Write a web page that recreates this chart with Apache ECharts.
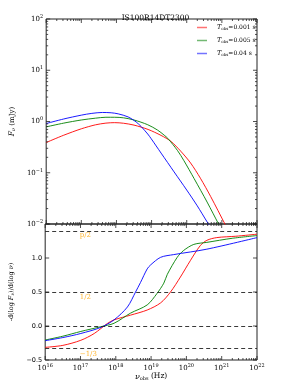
<!DOCTYPE html>
<html><head><meta charset="utf-8">
<script src="https://cdn.jsdelivr.net/npm/echarts@6/dist/echarts.min.js"></script>
<style>html,body{margin:0;padding:0;background:#fff}#c{width:294px;height:392px}</style>
</head><body><div id="c"></div>
<script>
// ---- data (log10 of frequency in Hz) ----
const seriesNames = ['0.001 s', '0.005 s', '0.04 s'];
const seriesColors = ['#ff0000', '#008000', '#0000ff'];

// Top panel: F_nu (mJy)
const redFluxLogNu   = [16, 16.5, 17.0, 17.4, 17.7, 17.95, 18.2, 18.5, 18.9, 19.27, 19.55, 19.83, 20.11, 20.39, 20.68, 21.1, 21.33];
const redFlux        = [0.389, 0.54, 0.72, 0.86, 0.93, 0.95, 0.925, 0.85, 0.70, 0.535, 0.41, 0.263, 0.155, 0.078, 0.0345, 0.0096, 0.0048];
const greenFluxLogNu = [16, 16.5, 17.0, 17.4, 17.7, 17.95, 18.2, 18.5, 18.89, 19.17, 19.36, 19.46, 19.74, 19.92, 20.21, 20.58, 20.91, 21.1];
const greenFlux      = [0.785, 0.93, 1.07, 1.16, 1.21, 1.21, 1.18, 1.07, 0.865, 0.68, 0.54, 0.47, 0.27, 0.172, 0.077, 0.0268, 0.0099, 0.0058];
const blueFluxLogNu  = [16, 16.5, 17.0, 17.3, 17.6, 17.85, 18.05, 18.33, 18.56, 18.7, 18.89, 18.99, 19.27, 19.64, 20.0, 20.3, 20.58, 20.8];
const blueFlux       = [0.912, 1.12, 1.33, 1.44, 1.50, 1.48, 1.41, 1.23, 0.98, 0.80, 0.57, 0.46, 0.242, 0.104, 0.046, 0.0226, 0.0110, 0.0064];

// Bottom panel: spectral slope -dlogF/dlognu
const redSlopeLogNu   = [16, 16.5, 17.01, 17.39, 17.77, 17.95, 18.42, 18.89, 19.27, 19.55, 19.83, 20.11, 20.39, 20.58, 20.86, 21.4, 22];
const redSlope        = [-0.314, -0.285, -0.21, -0.11, 0.04, 0.09, 0.16, 0.235, 0.34, 0.50, 0.72, 0.96, 1.18, 1.26, 1.30, 1.32, 1.35];
const greenSlopeLogNu = [16, 16.5, 17.01, 17.58, 17.95, 18.42, 18.89, 19.17, 19.36, 19.46, 19.74, 19.92, 20.21, 20.58, 21.3, 22];
const greenSlope      = [-0.206, -0.15, -0.08, -0.01, 0.04, 0.19, 0.31, 0.48, 0.63, 0.76, 1.01, 1.11, 1.20, 1.23, 1.29, 1.33];
const blueSlopeLogNu  = [16, 16.5, 17.01, 17.58, 17.95, 18.33, 18.56, 18.7, 18.89, 18.99, 19.27, 19.64, 20.58, 22];
const blueSlope       = [-0.216, -0.17, -0.11, -0.02, 0.09, 0.28, 0.50, 0.64, 0.84, 0.90, 1.01, 1.05, 1.13, 1.30];

// reference slope lines and their labels
const refLineValues = [1.4, 0.5, 0, -1/3];
const refLabels = ['p/2', '1/2', '\u22121/3'];
const refLabelY = [1.33, 0.43, -0.41];
const refLabelLogNu = 16.98;

// axes
const xMinExp = 16, xMaxExp = 22;
const topYMinExp = -2, topYMaxExp = 2;
const bottomYTicks = [-0.5, 0.0, 0.5, 1.0, 1.5];

const title = 'IS100R14DT2300';

// ---- build ----
const pw = e => Math.pow(10, e);
const pairs = (xs, ys) => xs.map((x, i) => [pw(x), ys[i]]);
const topData = [pairs(redFluxLogNu, redFlux), pairs(greenFluxLogNu, greenFlux), pairs(blueFluxLogNu, blueFlux)];
const botData = [pairs(redSlopeLogNu, redSlope), pairs(greenSlopeLogNu, greenSlope), pairs(blueSlopeLogNu, blueSlope)];

const serif = '"DejaVu Serif", "Liberation Serif", serif';
const sans = '"DejaVu Sans", sans-serif';
const supRich = {
  b: {fontSize: 7, fontFamily: serif, color: '#000'},
  s: {fontSize: 5, fontFamily: serif, color: '#000', padding: [0, 0, 5, 0]}
};
const supFmt = v => {
  const e = Math.round(Math.log10(v));
  return '{b|10}{s|' + (e < 0 ? '\u2212' + (-e) : e) + '}';
};

function logTicks(minE, maxE) {
  const major = [], minor = [];
  for (let e = minE; e <= maxE; e++) {
    major.push(pw(e));
    if (e < maxE) for (let m = 2; m <= 9; m++) minor.push(m * pw(e));
  }
  return {major, minor};
}
const xt = logTicks(xMinExp, xMaxExp);
const yt = logTicks(topYMinExp, topYMaxExp);
const MAJ = 4, MIN = 2;

function tickSeries(gridIdx, xTicks, yTicks, yMin, xMin) {
  const data = [];
  xTicks.major.forEach(v => data.push([v, yMin, 0, MAJ]));
  xTicks.minor.forEach(v => data.push([v, yMin, 0, MIN]));
  yTicks.major.forEach(v => data.push([xMin, v, 1, MAJ]));
  yTicks.minor.forEach(v => data.push([xMin, v, 1, MIN]));
  return {
    type: 'custom', xAxisIndex: gridIdx, yAxisIndex: gridIdx, silent: true, z: 5,
    data: data,
    renderItem: (params, api) => {
      const cs = params.coordSys;
      const p = api.coord([api.value(0), api.value(1)]);
      const L = api.value(3);
      const st = {stroke: '#222', lineWidth: 0.8};
      if (api.value(2) === 0) {
        return {type: 'group', children: [
          {type: 'line', shape: {x1: p[0], y1: cs.y + cs.height, x2: p[0], y2: cs.y + cs.height - L}, style: st},
          {type: 'line', shape: {x1: p[0], y1: cs.y, x2: p[0], y2: cs.y + L}, style: st}
        ]};
      }
      return {type: 'group', children: [
        {type: 'line', shape: {x1: cs.x, y1: p[1], x2: cs.x + L, y2: p[1]}, style: st},
        {type: 'line', shape: {x1: cs.x + cs.width, y1: p[1], x2: cs.x + cs.width - L, y2: p[1]}, style: st}
      ]};
    }
  };
}

const grids = [
  {left: 44, right: 37, top: 19, height: 205, show: true, borderColor: '#222', borderWidth: 1},
  {left: 44, right: 37, top: 224, height: 136, show: true, borderColor: '#222', borderWidth: 1}
];

const xAxisBase = {
  type: 'log', logBase: 10, min: pw(xMinExp), max: pw(xMaxExp), splitNumber: 6,
  axisLine: {show: false}, axisTick: {show: false}, splitLine: {show: false}
};

const option = {
  animation: false,
  backgroundColor: '#fff',
  title: {text: title, left: 150.5, top: 9, textAlign: 'center',
    textStyle: {fontSize: 7.5, fontWeight: 'normal', fontFamily: serif, color: '#000'}},
  legend: {
    data: seriesNames.map(n => 'T' + n),
    left: 197, top: 24, orient: 'vertical', itemWidth: 10, itemHeight: 1.5, itemGap: 6,
    icon: 'rect', padding: 0,
    itemStyle: {opacity: 0.55},
    formatter: n => '{i|T}{s|obs}{n|=' + n.slice(1) + '}',
    textStyle: {padding: [0, 0, 0, 5], rich: {
      i: {fontSize: 6.5, fontFamily: serif, fontStyle: 'italic', color: '#000'},
      s: {fontSize: 4, fontFamily: serif, color: '#000', padding: [3, 0, 0, 0]},
      n: {fontSize: 6, fontFamily: serif, color: '#000'}
    }}
  },
  grid: grids,
  xAxis: [
    Object.assign({}, xAxisBase, {gridIndex: 0, axisLabel: {show: false}}),
    Object.assign({}, xAxisBase, {gridIndex: 1,
      axisLabel: {formatter: supFmt, rich: supRich, margin: 3, showMinLabel: true, showMaxLabel: true},
      name: '{i|\u03bd}{s|obs}{n| (Hz)}', nameLocation: 'middle', nameGap: 12,
      nameTextStyle: {rich: {
        i: {fontSize: 8, fontFamily: serif, fontStyle: 'italic', color: '#000'},
        s: {fontSize: 5, fontFamily: serif, color: '#000', padding: [4, 0, 0, 0]},
        n: {fontSize: 7.5, fontFamily: serif, color: '#000'}
      }}
    })
  ],
  yAxis: [
    {gridIndex: 0, type: 'log', logBase: 10, min: pw(topYMinExp), max: pw(topYMaxExp), splitNumber: 4,
      axisLine: {show: false}, axisTick: {show: false}, splitLine: {show: false},
      axisLabel: {formatter: supFmt, rich: supRich, margin: 3, showMinLabel: true, showMaxLabel: true},
      name: '{i|F}{s|\u03bd}{n| (mJy)}', nameLocation: 'middle', nameGap: 6, nameRotate: 90,
      nameTextStyle: {rich: {
        i: {fontSize: 7.5, fontFamily: serif, fontStyle: 'italic', color: '#000'},
        s: {fontSize: 5, fontFamily: serif, fontStyle: 'italic', color: '#000', padding: [3, 0, 0, 0]},
        n: {fontSize: 7, fontFamily: serif, color: '#000'}
      }}
    },
    {gridIndex: 1, type: 'value', min: bottomYTicks[0], max: bottomYTicks[bottomYTicks.length - 1], interval: 0.5,
      axisLine: {show: false}, axisTick: {show: false}, splitLine: {show: false},
      axisLabel: {formatter: v => (v >= 1.5 ? '' : (v < 0 ? '\u2212' : '') + Math.abs(v).toFixed(1)),
        fontSize: 6.5, fontFamily: sans, color: '#000', margin: 3, showMinLabel: true, showMaxLabel: true},
      name: '-d(log {i|F}{s|\u03bd})/d(log {i|\u03bd})', nameLocation: 'middle', nameGap: 10, nameRotate: 90,
      nameTextStyle: {fontSize: 6.5, fontFamily: serif, color: '#000', rich: {
        i: {fontSize: 6.5, fontFamily: serif, fontStyle: 'italic', color: '#000'},
        s: {fontSize: 4.5, fontFamily: serif, fontStyle: 'italic', color: '#000', padding: [3, 0, 0, 0]}
      }}
    }
  ],
  series: []
};

for (let i = 0; i < 3; i++) {
  option.series.push({
    name: 'T' + seriesNames[i], type: 'line', xAxisIndex: 0, yAxisIndex: 0,
    data: topData[i], smooth: 0.3, showSymbol: false, clip: true,
    lineStyle: {color: seriesColors[i], width: 0.9}, itemStyle: {color: seriesColors[i]}
  });
}
for (let i = 0; i < 3; i++) {
  option.series.push({
    name: 'T' + seriesNames[i], type: 'line', xAxisIndex: 1, yAxisIndex: 1,
    data: botData[i], smooth: 0.3, showSymbol: false, clip: true,
    lineStyle: {color: seriesColors[i], width: 0.9}, itemStyle: {color: seriesColors[i]},
    markLine: i === 0 ? {
      silent: true, symbol: 'none', label: {show: false},
      lineStyle: {color: '#222', type: [4, 3], width: 0.9},
      data: refLineValues.map(v => ({yAxis: v}))
    } : undefined
  });
}
option.series.push({
  type: 'scatter', xAxisIndex: 1, yAxisIndex: 1, symbolSize: 0, silent: true,
  data: refLabels.map((t, i) => ({value: [pw(refLabelLogNu), refLabelY[i]], name: t})),
  label: {show: true, formatter: p => p.name, position: 'right', distance: 0,
    color: '#FFA500', fontSize: 7, fontFamily: serif}
});
option.series.push(tickSeries(0, xt, yt, pw(topYMinExp), pw(xMinExp)));
option.series.push(tickSeries(1, xt, {major: [-0.5, 0, 0.5, 1.0, 1.5], minor: []}, -0.5, pw(xMinExp)));

const chart = echarts.init(document.getElementById('c'), null, {renderer: 'canvas'});
chart.setOption(option);
</script></body></html>
